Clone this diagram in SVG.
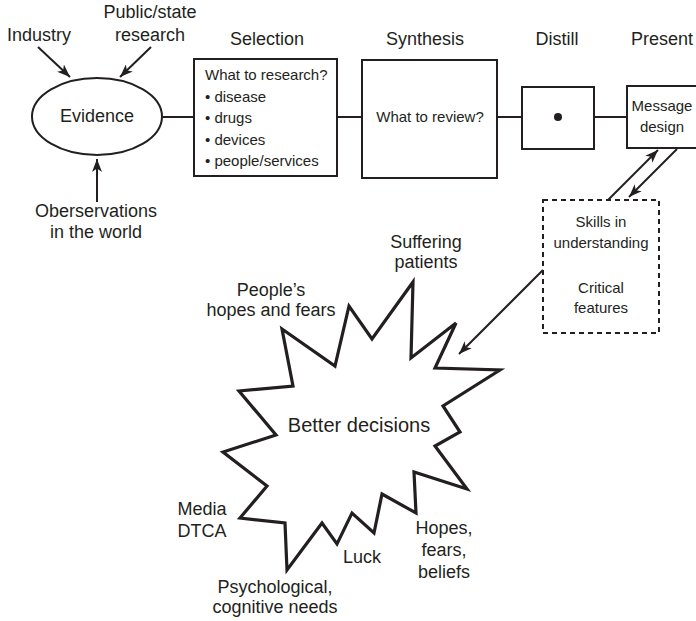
<svg xmlns="http://www.w3.org/2000/svg" width="696" height="621" viewBox="0 0 696 621">
<style>
text{font-family:"Liberation Sans",Arial,sans-serif;fill:#231f20}
.h{font-size:18px;text-anchor:middle}
.s{font-size:15px}
.c{text-anchor:middle}
.box{fill:#fff;stroke:#231f20;stroke-width:2}
.ln{fill:none;stroke:#231f20;stroke-width:2}
.ar{fill:none;stroke:#231f20;stroke-width:2;marker-end:url(#ah)}
</style>
<defs>
<marker id="ah" markerUnits="userSpaceOnUse" markerWidth="14" markerHeight="10" refX="13" refY="5" orient="auto" viewBox="0 0 14 10">
<path d="M0,0 L13,5 L0,10 L3.5,5 z" fill="#231f20"/>
</marker>
</defs>
<rect width="696" height="621" fill="#fff"/>
<g id="connectors">
<line class="ln" x1="162" y1="117" x2="194" y2="117"/>
<line class="ln" x1="337" y1="117" x2="362" y2="117"/>
<line class="ln" x1="497" y1="117" x2="522" y2="117"/>
<line class="ln" x1="594" y1="117" x2="627" y2="117"/>
<line class="ar" x1="38" y1="47" x2="70" y2="77"/>
<line class="ar" x1="151" y1="47" x2="120" y2="77"/>
<line class="ar" x1="97" y1="202" x2="97" y2="159"/>
<line class="ar" x1="608" y1="200" x2="658" y2="150"/>
<line class="ar" x1="677" y1="149" x2="629" y2="197"/>
<line class="ar" x1="543" y1="270" x2="459" y2="354"/>
</g>
<g id="industry"><text class="h" x="39" y="41">Industry</text></g>
<g id="public"><text class="h" x="150" y="18">Public/state</text><text class="h" x="150" y="41">research</text></g>
<g id="evidence">
<ellipse cx="97" cy="116.5" rx="65" ry="38.5" class="box"/>
<text class="h" x="97" y="122">Evidence</text>
</g>
<g id="observations"><text class="h" x="96" y="217">Oberservations</text><text class="h" x="96" y="238">in the world</text></g>
<g id="selection">
<text class="h" x="267" y="45">Selection</text>
<rect class="box" x="194" y="59" width="143" height="117"/>
<text class="s" x="205" y="80">What to research?</text>
<text class="s" x="205" y="101.5">• disease</text>
<text class="s" x="205" y="123">• drugs</text>
<text class="s" x="205" y="144.5">• devices</text>
<text class="s" x="205" y="166">• people/services</text>
</g>
<g id="synthesis">
<text class="h" x="425" y="45">Synthesis</text>
<rect class="box" x="362" y="60" width="135" height="118"/>
<text class="s c" x="430" y="122">What to review?</text>
</g>
<g id="distill">
<text class="h" x="557" y="45">Distill</text>
<rect class="box" x="522" y="87" width="72" height="62"/>
<circle cx="558" cy="117" r="4" fill="#231f20"/>
</g>
<g id="present">
<text class="h" x="662" y="45">Present</text>
<rect class="box" x="627" y="86" width="72" height="62"/>
<text class="s c" x="662" y="111">Message</text>
<text class="s c" x="662" y="132">design</text>
</g>
<g id="skills">
<rect x="543" y="200" width="116" height="133" fill="#fff" stroke="#231f20" stroke-width="2" stroke-dasharray="5,4"/>
<text class="s c" x="601" y="227">Skills in</text>
<text class="s c" x="601" y="248">understanding</text>
<text class="s c" x="601" y="293">Critical</text>
<text class="s c" x="601" y="313">features</text>
</g>
<g id="decisions">
<polygon points="282,329 335,366 349,306 372,339 413,282 411,358 456,323 435,368 500,370 443,406 460,432 435,446 467,489 414,472 416,513 382,494 374,533 352,513 337,544 322,523 287,570 285,523 240,518 267,486 223,452 276,435 239,391 293,386" fill="#fff" stroke="#231f20" stroke-width="3.2" stroke-linejoin="miter"/>
<text x="359" y="432" style="font-size:20px;text-anchor:middle">Better decisions</text>
</g>
<g id="suffering"><text class="h" x="426" y="248">Suffering</text><text class="h" x="426" y="268">patients</text></g>
<g id="peoples"><text class="h" x="271" y="296">People’s</text><text class="h" x="271" y="316">hopes and fears</text></g>
<g id="media"><text class="h" x="202" y="515">Media</text><text class="h" x="202" y="537">DTCA</text></g>
<g id="luck"><text class="h" x="362" y="563">Luck</text></g>
<g id="psych"><text class="h" x="275" y="593">Psychological,</text><text class="h" x="275" y="613">cognitive needs</text></g>
<g id="hopes"><text class="h" x="444" y="534">Hopes,</text><text class="h" x="444" y="556">fears,</text><text class="h" x="444" y="578">beliefs</text></g>
</svg>
